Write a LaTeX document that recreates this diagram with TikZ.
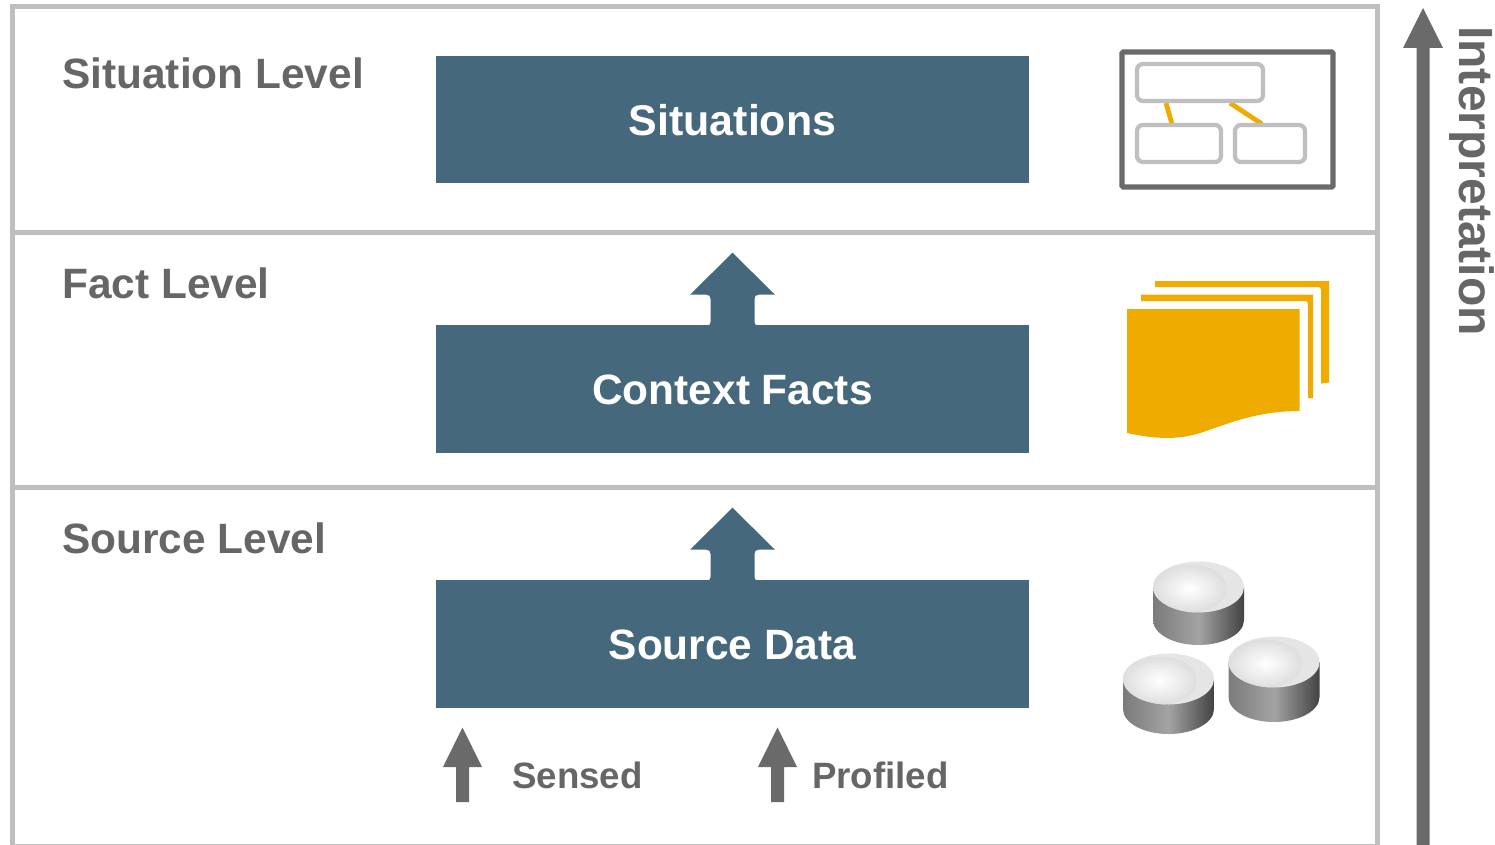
\documentclass[tikz,border=0pt]{standalone}
\usepackage{fontspec}
\setmainfont{Liberation Sans}
\usetikzlibrary{calc,shadings}
\definecolor{bluebox}{HTML}{46687C}
\definecolor{greytxt}{HTML}{666666}
\definecolor{greydark}{HTML}{6A6A6A}
\definecolor{greyline}{HTML}{BFBFBF}
\definecolor{orangeic}{HTML}{F0AB00}
\tikzset{
  band/.style={draw=greyline,line width=3.75pt},
  levellabel/.style={anchor=base west,inner sep=0pt,text=greytxt,font=\bfseries\fontsize{31.8}{38}\selectfont},
  sublabel/.style={anchor=base west,inner sep=0pt,text=greytxt,font=\bfseries\fontsize{27.5}{33}\selectfont},
  bluelayer/.style={fill=bluebox,draw=none,inner sep=0pt,minimum width=444.75pt,text=white,font=\bfseries\fontsize{31.8}{38}\selectfont,text height=23pt,text depth=0pt},
  iconbox/.style={draw=greyline,line width=3.2pt,rounded corners=4.5pt},
  iconlink/.style={draw=orangeic,line width=3.6pt},
  pics/dbcyl/.style={code={
    \shade[left color=black!52,right color=black!74,middle color=black!36]
      (-45.5,0) -- (-45.5,#1) arc[start angle=180,end angle=0,x radius=45.5,y radius=25] -- (45.5,0) -- cycle;
    \fill[black!10] (0,0) ellipse[x radius=45.5,y radius=25.5];
    \begin{scope}
      \clip (0,0) ellipse[x radius=45.5,y radius=25.5];
      \shade[inner color=white,outer color=black!13] (-9,1.5) ellipse[x radius=37,y radius=24];
    \end{scope}
  }}
}
\newcommand{\blockup}[1]{%
  \fill[bluebox,shift={(#1.north)}] (-26,0.5) .. controls (-22,0.5) and (-22,-1) .. (-22,-3)
    -- (-22,-26) .. controls (-22,-28.5) and (-23.5,-30) .. (-26,-30)
    -- (-42.5,-30) -- (0,-72) -- (42.5,-30) -- (26,-30)
    .. controls (23.5,-30) and (22,-28.5) .. (22,-26)
    -- (22,-3) .. controls (22,-1) and (22,0.5) .. (26,0.5) -- cycle;}
\newcommand{\smallup}[1]{%
  \fill[greydark,shift={(#1)}] (-6.5,0) -- (-6.5,-35) -- (-19.5,-35) -- (0,-74.5) -- (19.5,-35) -- (6.5,-35) -- (6.5,0) -- cycle;}
\begin{document}
\begin{tikzpicture}[x=0.75pt,y=-0.75pt]
\clip (0,0) rectangle (1495,845);
\fill[white] (0,0) rectangle (1495,845);
% frame
\draw[band] (12,7) rectangle (1377,846.5);
\draw[band] (12,232) -- (1377,232);
\draw[band] (12,487) -- (1377,487);
% level labels
\node[levellabel] (lsit) at (62,89) {Situation Level};
\node[levellabel] (lfact) at (62,298) {Fact Level};
\node[levellabel] (lsrc) at (62,553) {Source Level};
% boxes
\node[bluelayer,minimum height=95.25pt,text height=24.5pt,font=\bfseries\fontsize{32.2}{38}\selectfont] (sit) at (732.5,119.5) {Situations};
\node[bluelayer,minimum height=96pt] (ctx) at (732.5,389) {Context Facts};
\node[bluelayer,minimum height=96pt] (src) at (732.5,644) {Source Data};
\blockup{ctx}
\blockup{src}
% inputs
\coordinate (sensedbase) at (462.5,802);
\coordinate (profbase) at (777.5,802);
\smallup{sensedbase}
\smallup{profbase}
\node[sublabel] (sensed) at (512,788) {Sensed};
\node[sublabel] (profiled) at (812,788) {Profiled};
% interpretation arrow
\coordinate (interpbase) at (1423,846);
\fill[greydark,shift={(interpbase)}] (-6.5,0) -- (-6.5,-798) -- (-20,-798) -- (0,-838) -- (20,-798) -- (6.5,-798) -- (6.5,0) -- cycle;
\node[anchor=base west,inner sep=0pt,rotate=-90,text=greytxt,font=\bfseries\fontsize{36.05}{42}\selectfont] (interp) at (1459.5,26) {Interpretation};
% situation icon
\draw[draw=greydark,line width=3.9pt,rounded corners=1pt] (1122,52) rectangle (1333,187);
\draw[iconlink] (1166,103) -- (1172,124);
\draw[iconlink] (1230,103) -- (1262,124);
\draw[iconbox] (1137,64) rectangle (1263,101);
\draw[iconbox] (1137,125) rectangle (1221,162);
\draw[iconbox] (1235,125) rectangle (1305,162);
% document icon
\fill[orangeic] (1155,281) -- (1329,281) -- (1329,382.5) -- (1321,383.5) -- (1321,290) .. controls (1321,288) and (1320,287) .. (1318,287) -- (1155,287) -- cycle;
\fill[orangeic] (1141,294.5) -- (1313,294.5) -- (1313,398) -- (1308,398) -- (1308,304) .. controls (1308,302) and (1307,301) .. (1305,301) -- (1141,301) -- cycle;
\fill[orangeic] (1127,309) -- (1299.5,309) -- (1299.5,411) .. controls (1255,411) and (1225,425) .. (1200,433) .. controls (1175,441) and (1150,438) .. (1127,433) -- cycle;
% databases
\pic at (1198.5,587) {dbcyl=33};
\pic at (1274,662) {dbcyl=35};
\pic at (1168.5,679) {dbcyl=30};
\end{tikzpicture}
\end{document}
